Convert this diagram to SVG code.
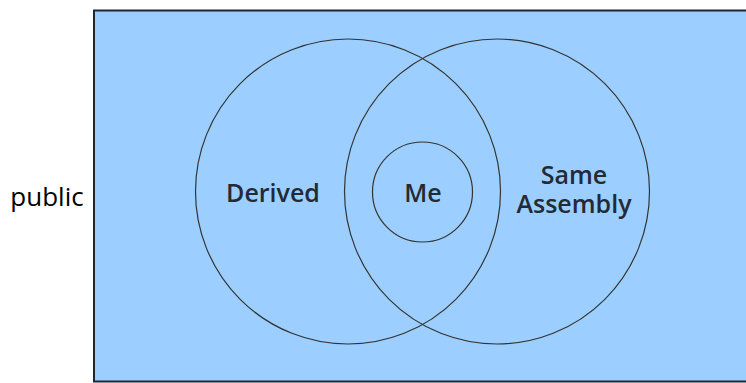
<svg xmlns="http://www.w3.org/2000/svg" width="746" height="383" viewBox="0 0 746 383">
<style>
.c{fill:none;stroke:#333;stroke-width:1.2}
.t{font-family:"Open Sans","Noto Sans",sans-serif;font-size:25px;font-weight:600;fill:#222a35;text-anchor:middle}
</style>
<rect x="0" y="0" width="746" height="383" fill="#fff"/>
<text x="47" y="206" style="font-family:'Open Sans','Noto Sans',sans-serif;font-size:26px;fill:#000;text-anchor:middle">public</text>
<g id="public">
<rect x="94" y="10.5" width="660" height="371" fill="#9ccfff" stroke="#1c2733" stroke-width="2"/>
</g>
<g id="derived">
<circle cx="348" cy="191.5" r="152.5" class="c"/>
<text x="273" y="202" class="t">Derived</text>
</g>
<g id="same-assembly">
<circle cx="497" cy="191.5" r="152.5" class="c"/>
<text x="574" y="184" class="t">Same</text>
<text x="574" y="213" class="t">Assembly</text>
</g>
<g id="me">
<circle cx="422.5" cy="192" r="50" class="c"/>
<text x="423" y="202" class="t">Me</text>
</g>
<g id="connectors"/>
</svg>
